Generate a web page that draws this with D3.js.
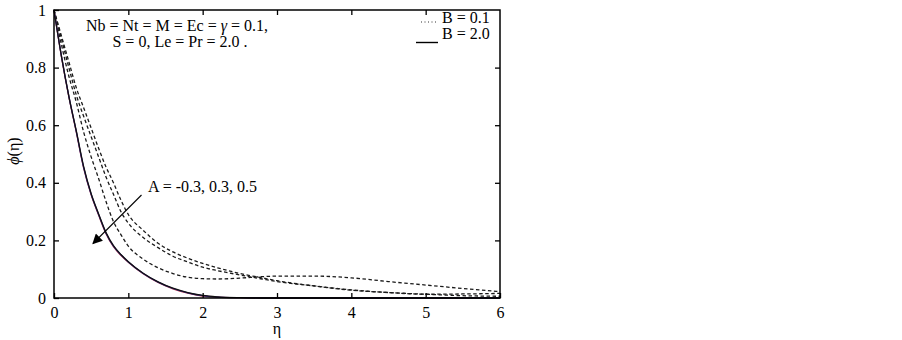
<!DOCTYPE html>
<html>
<head>
<meta charset="utf-8">
<script src="https://cdn.jsdelivr.net/npm/d3@7"></script>
<style>
  body { margin: 0; background: #fff; }
  svg text { font-family: "Liberation Serif", "Times New Roman", serif; fill: #000; }
</style>
</head>
<body>
<svg id="chart" width="902" height="340"></svg>
<script>
// eta grid shared by all curves
var eta = [0, 0.1, 0.2, 0.3, 0.4, 0.5, 0.6, 0.7, 0.8, 0.9, 1.0, 1.2, 1.4, 1.6, 1.8, 2.0, 2.2, 2.5, 2.8, 3.0, 3.5, 4.0, 4.5, 5.0, 5.5, 6.0];

// B = 0.1 (dashed), A = -0.3, 0.3, 0.5
var phiB01_Am03 = [1, 0.91, 0.82, 0.73, 0.66, 0.59, 0.52, 0.455, 0.40, 0.34, 0.29, 0.235, 0.19, 0.16, 0.138, 0.12, 0.105, 0.085, 0.07, 0.06, 0.042, 0.027, 0.019, 0.013, 0.014, 0.016];
var phiB01_A03  = [1, 0.90, 0.80, 0.705, 0.63, 0.56, 0.49, 0.42, 0.36, 0.30, 0.26, 0.21, 0.175, 0.145, 0.125, 0.107, 0.095, 0.08, 0.066, 0.057, 0.042, 0.028, 0.019, 0.013, 0.008, 0.006];
var phiB01_A05  = [1, 0.88, 0.77, 0.68, 0.575, 0.49, 0.415, 0.335, 0.265, 0.22, 0.18, 0.135, 0.105, 0.085, 0.072, 0.067, 0.066, 0.069, 0.074, 0.076, 0.076, 0.07, 0.057, 0.045, 0.033, 0.022];

// B = 2.0 (solid), nearly coincident
var phiB2_Am03 = [1, 0.84, 0.70, 0.58, 0.455, 0.362, 0.292, 0.227, 0.182, 0.151, 0.126, 0.086, 0.056, 0.034, 0.019, 0.009, 0.004, 0.001, 0, 0, 0, 0, 0, 0, 0, 0];
var phiB2_A03  = [1, 0.84, 0.70, 0.578, 0.452, 0.36, 0.29, 0.225, 0.18, 0.15, 0.125, 0.085, 0.055, 0.033, 0.018, 0.008, 0.003, 0.001, 0, 0, 0, 0, 0, 0, 0, 0];
var phiB2_A05  = [1, 0.838, 0.698, 0.576, 0.45, 0.358, 0.288, 0.223, 0.178, 0.148, 0.124, 0.084, 0.054, 0.032, 0.017, 0.007, 0.003, 0.001, 0, 0, 0, 0, 0, 0, 0, 0];

var xTicks = [0, 1, 2, 3, 4, 5, 6];
var yTicks = [0, 0.2, 0.4, 0.6, 0.8, 1];
var yTickLabels = ["0", "0.2", "0.4", "0.6", "0.8", "1"];

var svg = d3.select("#chart");
// note: "top" is a reserved window property, so use prefixed names
var pL = 54, pR = 500, pT = 10, pB = 298;

var x = d3.scaleLinear().domain([0, 6]).range([pL, pR]);
var y = d3.scaleLinear().domain([0, 1]).range([pB, pT]);

var line = d3.line()
    .x(function(d) { return x(d[0]); })
    .y(function(d) { return y(d[1]); })
    .curve(d3.curveMonotoneX);

function pairs(vals) { return eta.map(function(e, i) { return [e, vals[i]]; }); }

var plot = svg.append("g");

// dashed curves
[phiB01_Am03, phiB01_A03, phiB01_A05].forEach(function(vals) {
  plot.append("path")
      .datum(pairs(vals))
      .attr("fill", "none")
      .attr("stroke", "#1a1a1a")
      .attr("stroke-width", 1.3)
      .attr("stroke-dasharray", "3.5,2.5")
      .attr("d", line);
});

// solid curves
[[phiB2_A05, "#c03040"], [phiB2_A03, "#3030a0"], [phiB2_Am03, "#111"]].forEach(function(s) {
  plot.append("path")
      .datum(pairs(s[0]))
      .attr("fill", "none")
      .attr("stroke", s[1])
      .attr("stroke-width", 1.3)
      .attr("d", line);
});

// axes
var tickLen = 5;
svg.append("g")
    .attr("transform", "translate(0," + pB + ")")
    .call(d3.axisBottom(x).tickValues(xTicks).tickSizeInner(-tickLen).tickSizeOuter(0).tickPadding(9).tickFormat(d3.format("d")))
    .call(function(g) { g.select(".domain").remove(); });

svg.append("g")
    .attr("transform", "translate(0," + pT + ")")
    .call(d3.axisTop(x).tickValues(xTicks.slice(1, -1)).tickSizeInner(-tickLen).tickSizeOuter(0).tickFormat(""))
    .call(function(g) { g.select(".domain").remove(); });

svg.append("g")
    .attr("transform", "translate(" + pL + ",0)")
    .call(d3.axisLeft(y).tickValues(yTicks).tickSizeInner(-tickLen).tickSizeOuter(0).tickPadding(8)
      .tickFormat(function(d, i) { return yTickLabels[i]; }))
    .call(function(g) { g.select(".domain").remove(); });

svg.append("g")
    .attr("transform", "translate(" + pR + ",0)")
    .call(d3.axisRight(y).tickValues(yTicks.slice(1, -1)).tickSizeInner(-tickLen).tickSizeOuter(0).tickFormat(""))
    .call(function(g) { g.select(".domain").remove(); });

svg.selectAll(".tick line").attr("stroke", "#000").attr("stroke-width", 1.3);
svg.selectAll(".tick text").style("font-size", "16px").attr("fill", "#000");

// frame
svg.append("rect")
    .attr("x", pL).attr("y", pT)
    .attr("width", pR - pL).attr("height", pB - pT)
    .attr("fill", "none").attr("stroke", "#000").attr("stroke-width", 1.5);

// axis titles
svg.append("text")
    .attr("x", x(3)).attr("y", 334)
    .attr("text-anchor", "middle")
    .style("font-size", "16px")
    .text("η");

var yl = svg.append("text")
    .attr("transform", "translate(19,151) rotate(-90)")
    .attr("text-anchor", "middle")
    .style("font-size", "16px");
yl.append("tspan").style("font-style", "italic").text("ϕ");
yl.append("tspan").text("(η)");

// parameter note
var note = svg.append("text").attr("text-anchor", "middle").style("font-size", "16px");
var t1 = note.append("tspan").attr("x", 177).attr("y", 31);
t1.append("tspan").text("Nb = Nt = M = Ec = ");
t1.append("tspan").style("font-style", "italic").text("γ");
t1.append("tspan").text(" = 0.1,");
note.append("tspan").attr("x", 180).attr("y", 46.5).text("S = 0, Le = Pr = 2.0 .");

// legend
svg.append("line")
    .attr("x1", 421).attr("x2", 437).attr("y1", 22).attr("y2", 22)
    .attr("stroke", "#333").attr("stroke-width", 1).attr("stroke-dasharray", "1,2.5");
svg.append("text").attr("x", 442).attr("y", 23).style("font-size", "16px").text("B = 0.1");
svg.append("line")
    .attr("x1", 416).attr("x2", 438).attr("y1", 42.5).attr("y2", 42.5)
    .attr("stroke", "#000").attr("stroke-width", 1.4);
svg.append("text").attr("x", 442).attr("y", 38.5).style("font-size", "16px").text("B = 2.0");

// arrow annotation
svg.append("defs").append("marker")
    .attr("id", "head")
    .attr("viewBox", "0 0 10 10")
    .attr("refX", 9).attr("refY", 5)
    .attr("markerWidth", 15).attr("markerHeight", 10)
    .attr("markerUnits", "userSpaceOnUse")
    .attr("orient", "auto")
  .append("path")
    .attr("d", "M0,0 L10,5 L0,10 Z")
    .attr("fill", "#000");

svg.append("line")
    .attr("x1", 141.5).attr("y1", 195)
    .attr("x2", 93).attr("y2", 243.5)
    .attr("stroke", "#000").attr("stroke-width", 1.1)
    .attr("marker-end", "url(#head)");

svg.append("text").attr("x", 148).attr("y", 192).style("font-size", "16px").text("A = -0.3, 0.3, 0.5");
</script>
</body>
</html>
